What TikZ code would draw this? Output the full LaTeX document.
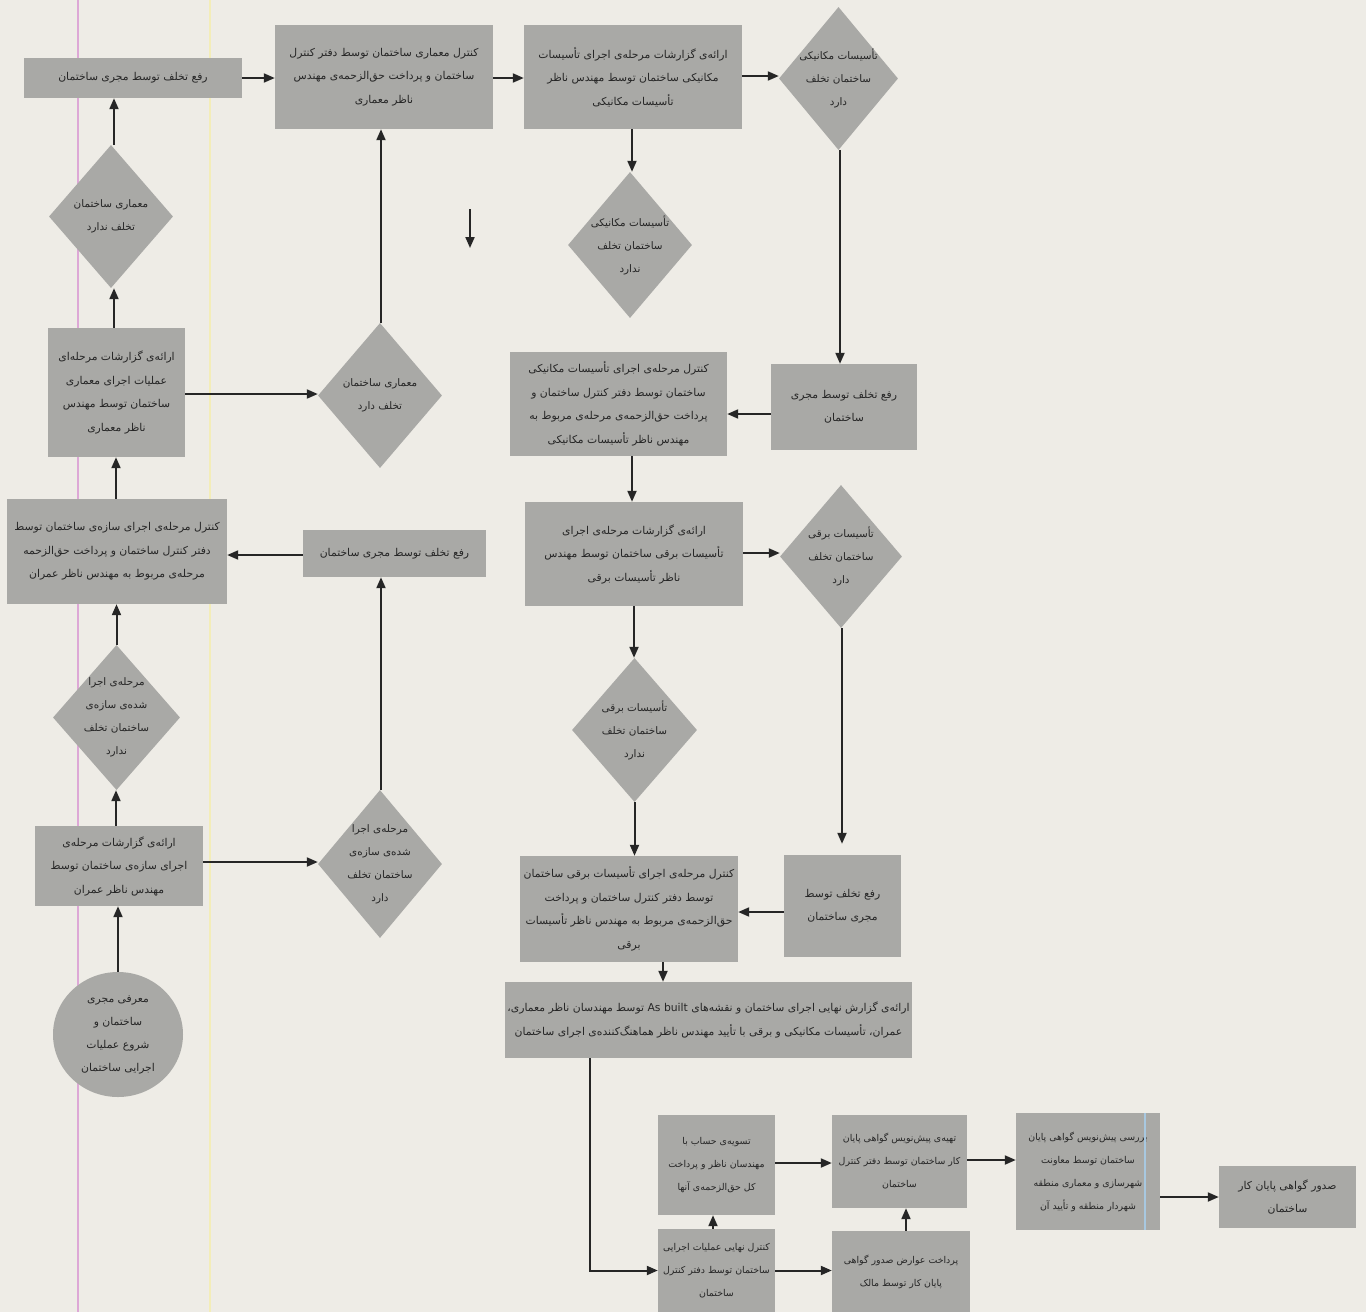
\documentclass[tikz,border=0pt]{standalone}
\usepackage{fontspec}
\newfontfamily\fa[Script=Arabic]{DejaVu Sans}
\TeXXeTstate=1
\usetikzlibrary{shapes.geometric,arrows.meta}
\newcommand{\rtl}[1]{\beginR#1\endR}
\definecolor{bg}{HTML}{EEECE6}
\definecolor{boxg}{HTML}{A9A9A6}
\definecolor{ink}{HTML}{262626}
\definecolor{pinkline}{HTML}{DDA8D6}
\definecolor{yelline}{HTML}{F3EDB8}
\definecolor{blueline}{HTML}{A8C8E0}
\begin{document}
\begin{tikzpicture}[x=1pt,y=-1pt,
  box/.style={rectangle, fill=boxg, text=ink, align=center, inner sep=1pt,
    font=\fa\fontsize{10.8}{23.5}\selectfont},
  sbox/.style={box, font=\fa\fontsize{9.4}{23}\selectfont},
  dia/.style={diamond, fill=boxg, inner sep=0pt},
  dtext/.style={text=ink, align=center, inner sep=0pt,
    font=\fa\fontsize{10.4}{23}\selectfont},
  startel/.style={ellipse, fill=boxg, text=ink, align=center, inner sep=0pt,
    font=\fa\fontsize{10.8}{23}\selectfont},
  arr/.style={-{Triangle[length=11pt,width=9pt]}, line width=2pt, draw=ink}
]
\fill[bg] (0,0) rectangle (1366,1312);
\useasboundingbox (0,0) rectangle (1366,1312);

% scan artefact lines
\draw[pinkline, line width=1.6pt] (78,0) -- (78,1312);
\draw[yelline, line width=1.6pt] (210,0) -- (210,1312);

% ---- top row
\node[box, minimum width=218, minimum height=40] (b1) at (133,78)
  {\rtl{رفع تخلف توسط مجری ساختمان}};
\node[box, minimum width=218, minimum height=104] (b2) at (384,77)
  {\rtl{کنترل معماری ساختمان توسط دفتر کنترل}\\
   \rtl{ساختمان و پرداخت حق‌الزحمه‌ی مهندس}\\
   \rtl{ناظر معماری}};
\node[box, minimum width=218, minimum height=104] (b3) at (633,77)
  {\rtl{ارائه‌ی گزارشات مرحله‌ی اجرای تأسیسات}\\
   \rtl{مکانیکی ساختمان توسط مهندس ناظر}\\
   \rtl{تأسیسات مکانیکی}};
\node[dia, minimum width=119, minimum height=143] (d4) at (838.5,78.5) {};
\node[dtext] (t4) at (d4) {\rtl{تأسیسات مکانیکی}\\ \rtl{ساختمان تخلف}\\ \rtl{دارد}};
\node[dia, minimum width=124, minimum height=146] (d5) at (630,245) {};
\node[dtext] (t5) at (d5) {\rtl{تأسیسات مکانیکی}\\ \rtl{ساختمان تخلف}\\ \rtl{ندارد}};

% ---- left column
\node[dia, minimum width=124, minimum height=143] (d6) at (111,216.5) {};
\node[dtext] (t6) at (d6) {\rtl{معماری ساختمان}\\ \rtl{تخلف ندارد}};
\node[box, minimum width=137, minimum height=129] (b7) at (116.5,392.5)
  {\rtl{ارائه‌ی گزارشات مرحله‌ای}\\
   \rtl{عملیات اجرای معماری}\\
   \rtl{ساختمان توسط مهندس}\\
   \rtl{ناظر معماری}};
\node[dia, minimum width=124, minimum height=145] (d8) at (380,395.5) {};
\node[dtext] (t8) at (d8) {\rtl{معماری ساختمان}\\ \rtl{تخلف دارد}};
\node[box, minimum width=220, minimum height=105] (b12) at (117,551.5)
  {\rtl{کنترل مرحله‌ی اجرای سازه‌ی ساختمان توسط}\\
   \rtl{دفتر کنترل ساختمان و پرداخت حق‌الزحمه}\\
   \rtl{مرحله‌ی مربوط به مهندس ناظر عمران}};
\node[box, minimum width=183, minimum height=47] (b13) at (394.5,553.5)
  {\rtl{رفع تخلف توسط مجری ساختمان}};
\node[dia, minimum width=127, minimum height=145] (d16) at (116.5,717.5) {};
\node[dtext] (t16) at (d16) {\rtl{مرحله‌ی اجرا}\\ \rtl{شده‌ی سازه‌ی}\\ \rtl{ساختمان تخلف}\\ \rtl{ندارد}};
\node[box, minimum width=168, minimum height=80] (b18) at (119,866)
  {\rtl{ارائه‌ی گزارشات مرحله‌ی}\\
   \rtl{اجرای سازه‌ی ساختمان توسط}\\
   \rtl{مهندس ناظر عمران}};
\node[dia, minimum width=124, minimum height=148] (d19) at (380,864) {};
\node[dtext] (t19) at (d19) {\rtl{مرحله‌ی اجرا}\\ \rtl{شده‌ی سازه‌ی}\\ \rtl{ساختمان تخلف}\\ \rtl{دارد}};
\node[startel, minimum width=130, minimum height=125] (e20) at (118,1034.5)
  {\rtl{معرفی مجری}\\ \rtl{ساختمان و}\\ \rtl{شروع عملیات}\\ \rtl{اجرایی ساختمان}};

% ---- middle / right column
\node[box, minimum width=217, minimum height=104] (b10) at (618.5,404)
  {\rtl{کنترل مرحله‌ی اجرای تأسیسات مکانیکی}\\
   \rtl{ساختمان توسط دفتر کنترل ساختمان و}\\
   \rtl{پرداخت حق‌الزحمه‌ی مرحله‌ی مربوط به}\\
   \rtl{مهندس ناظر تأسیسات مکانیکی}};
\node[box, minimum width=146, minimum height=86] (b11) at (844,407)
  {\rtl{رفع تخلف توسط مجری}\\ \rtl{ساختمان}};
\node[box, minimum width=218, minimum height=104] (b14) at (634,554)
  {\rtl{ارائه‌ی گزارشات مرحله‌ی اجرای}\\
   \rtl{تأسیسات برقی ساختمان توسط مهندس}\\
   \rtl{ناظر تأسیسات برقی}};
\node[dia, minimum width=122, minimum height=143] (d15) at (841,556.5) {};
\node[dtext] (t15) at (d15) {\rtl{تأسیسات برقی}\\ \rtl{ساختمان تخلف}\\ \rtl{دارد}};
\node[dia, minimum width=125, minimum height=144] (d17) at (634.5,730) {};
\node[dtext] (t17) at (d17) {\rtl{تأسیسات برقی}\\ \rtl{ساختمان تخلف}\\ \rtl{ندارد}};
\node[box, minimum width=218, minimum height=106] (b21) at (629,909)
  {\rtl{کنترل مرحله‌ی اجرای تأسیسات برقی ساختمان}\\
   \rtl{توسط دفتر کنترل ساختمان و پرداخت}\\
   \rtl{حق‌الزحمه‌ی مربوط به مهندس ناظر تأسیسات}\\
   \rtl{برقی}};
\node[box, minimum width=117, minimum height=102] (b22) at (842.5,906)
  {\rtl{رفع تخلف توسط}\\ \rtl{مجری ساختمان}};
\node[box, minimum width=407, minimum height=76] (b23) at (708.5,1020)
  {\rtl{ارائه‌ی گزارش نهایی اجرای ساختمان و نقشه‌های \beginL As built\endL{} توسط مهندسان ناظر معماری،}\\
   \rtl{عمران، تأسیسات مکانیکی و برقی با تأیید مهندس ناظر هماهنگ‌کننده‌ی اجرای ساختمان}};

% ---- bottom row
\node[sbox, minimum width=117, minimum height=100] (b24) at (716.5,1165)
  {\rtl{تسویه‌ی حساب با}\\ \rtl{مهندسان ناظر و پرداخت}\\ \rtl{کل حق‌الزحمه‌ی آنها}};
\node[sbox, minimum width=117, minimum height=83] (b25) at (716.5,1270.5)
  {\rtl{کنترل نهایی عملیات اجرایی}\\ \rtl{ساختمان توسط دفتر کنترل}\\ \rtl{ساختمان}};
\node[sbox, minimum width=135, minimum height=93] (b26) at (899.5,1161.5)
  {\rtl{تهیه‌ی پیش‌نویس گواهی پایان}\\ \rtl{کار ساختمان توسط دفتر کنترل}\\ \rtl{ساختمان}};
\node[sbox, minimum width=138, minimum height=81] (b27) at (901,1271.5)
  {\rtl{پرداخت عوارض صدور گواهی}\\ \rtl{پایان کار توسط مالک}};
\node[sbox, minimum width=144, minimum height=117] (b28) at (1088,1171.5)
  {\rtl{بررسی پیش‌نویس گواهی پایان}\\ \rtl{ساختمان توسط معاونت}\\ \rtl{شهرسازی و معماری منطقه}\\ \rtl{شهردار منطقه و تأیید آن}};
\node[box, minimum width=137, minimum height=62] (b29) at (1287.5,1197)
  {\rtl{صدور گواهی پایان کار}\\ \rtl{ساختمان}};
\draw[blueline, line width=1.2pt] (1145,1113) -- (1145,1230);

% stray arrow
\coordinate (s1) at (470,209);
\coordinate (s2) at (470,248);
\draw[arr] (s1) -- (s2);

% ---- connectors
\draw[arr] (e20.north) -- (e20.north |- b18.south);
\draw[arr] ([xshift=-3]b18.north) -- ([xshift=-3]b18.north |- d16.south);
\draw[arr] ([yshift=4]b18.east) -- ([yshift=4]b18.east -| d19.west);
\draw[arr] (d16.north) -- (d16.north |- b12.south);
\draw[arr] ([xshift=1]d19.north) -- ([xshift=1]d19.north |- b13.south);
\draw[arr] ([yshift=-1.5]b13.west) -- ([yshift=-1.5]b13.west -| b12.east);
\draw[arr] ([xshift=-1]b12.north) -- ([xshift=-1]b12.north |- b7.south);
\draw[arr] ([xshift=-2.5]b7.north) -- ([xshift=-2.5]b7.north |- d6.south);
\draw[arr] ([yshift=-1.5]b7.east) -- ([yshift=-1.5]b7.east -| d8.west);
\draw[arr] ([xshift=3]d6.north) -- ([xshift=3]d6.north |- b1.south);
\draw[arr] ([xshift=1]d8.north) -- ([xshift=1]d8.north |- b2.south);
\draw[arr] (b1.east) -- (b1.east -| b2.west);
\draw[arr] ([yshift=-1]b2.east) -- ([yshift=-1]b2.east -| b3.west);
\draw[arr] ([yshift=1]b3.east) -- ([yshift=1]b3.east -| d4.west);
\draw[arr] ([xshift=-1]b3.south) -- ([xshift=-1]b3.south |- d5.north);
\draw[arr] ([xshift=1.5]d4.south) -- ([xshift=1.5]d4.south |- b11.north);
\draw[arr] ([yshift=-7]b11.west) -- ([yshift=-7]b11.west -| b10.east);
\draw[arr] ([xshift=-2]b14.north |- b10.south) -- ([xshift=-2]b14.north);
\draw[arr] ([yshift=1]b14.east) -- ([yshift=1]b14.east -| d15.west);
\draw[arr] (b14.south) -- (b14.south |- d17.north);
\draw[arr, shorten >=11pt] ([xshift=1]d15.south) -- ([xshift=1]d15.south |- b22.north);
\draw[arr] ([yshift=-6]b22.west) -- ([yshift=-6]b22.west -| b21.east);
\draw[arr] (d17.south) -- (d17.south |- b21.north);
\draw[arr] ([xshift=34]b21.south) -- ([xshift=34]b21.south |- b23.north);
\draw[arr] ([xshift=85]b23.south west) |- (b25.west);
\draw[arr] ([xshift=-3.5]b25.north) -- ([xshift=-3.5]b25.north |- b24.south);
\draw[arr] (b25.east) -- (b25.east -| b27.west);
\draw[arr] ([yshift=2]b24.east) -- ([yshift=2]b24.east -| b26.west);
\draw[arr] ([xshift=5]b27.north) -- ([xshift=5]b27.north |- b26.south);
\draw[arr] ([yshift=1.5]b26.east) -- ([yshift=1.5]b26.east -| b28.west);
\draw[arr] (b29.west -| b28.east) -- (b29.west);
\end{tikzpicture}
\end{document}
